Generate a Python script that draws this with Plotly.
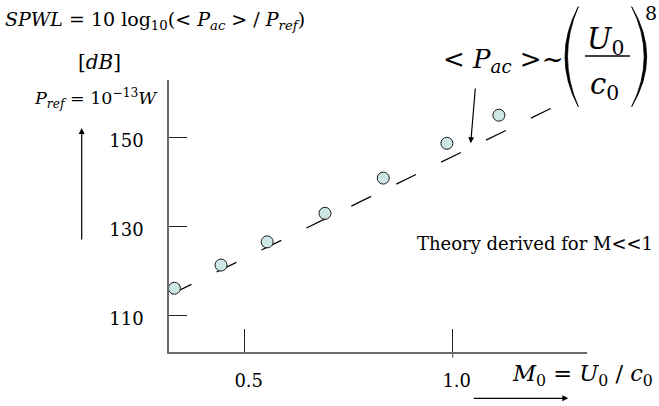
import plotly.graph_objects as go

# Measured sound power level vs. Mach number
mach = [0.331, 0.443, 0.554, 0.693, 0.833, 0.986, 1.111]
spwl = [116.2, 121.4, 126.6, 133.0, 140.9, 148.7, 155.0]

# U^8 law (theory valid for M << 1), drawn as a straight dashed guide
theory_mach = [0.3245, 1.2418]
theory_spwl = [114.9, 156.8]

x_ticks = [0.5, 1.0]
x_tick_text = ["0.5", "1.0"]
y_ticks = [110, 130, 150]
y_tick_text = ["110", "130", "150"]

W, H = 659, 406
SERIF = "DejaVu Serif"


def px(x):
    return x / W


def py(y):
    return 1 - y / H


fig = go.Figure()

fig.add_trace(go.Scatter(
    x=theory_mach, y=theory_spwl, mode="lines",
    line=dict(color="black", width=1.2, dash="22px,28px"),
    hoverinfo="skip", showlegend=False,
))

fig.add_trace(go.Scatter(
    x=mach, y=spwl, mode="markers",
    marker=dict(size=12, color="#cde7e7", line=dict(color="#1a1a1a", width=1)),
    showlegend=False,
))

axis_common = dict(
    showgrid=False, zeroline=False, showline=True,
    linecolor="#6a6a6a", linewidth=1.5,
    ticks="inside", tickcolor="#222", tickwidth=1.3,
    tickfont=dict(family=SERIF, size=18, color="black"),
)

fig.update_xaxes(
    domain=[px(169), px(587)], range=[0.318, 1.3228],
    tickmode="array", tickvals=x_ticks, ticktext=x_tick_text,
    ticklen=23, ticklabelstandoff=12, ticklabelshift=4,
    **axis_common,
)
fig.update_yaxes(
    domain=[py(352), py(80)], range=[101.91, 162.89],
    tickmode="array", tickvals=y_ticks, ticktext=y_tick_text,
    ticklen=18, ticklabelstandoff=20, ticklabelshift=3,
    **axis_common,
)

annotations = []


def label(x, y, text, size, xanchor="center", yanchor="middle"):
    annotations.append(dict(
        x=px(x), y=py(y), xref="paper", yref="paper", text=text,
        showarrow=False, xanchor=xanchor, yanchor=yanchor,
        font=dict(family=SERIF, size=size, color="black"),
    ))


def arrow(hx, hy, ax, ay):
    annotations.append(dict(
        x=px(hx), y=py(hy), xref="paper", yref="paper", text=" ",
        showarrow=True, ax=ax, ay=ay, arrowhead=2, arrowsize=1,
        arrowwidth=1.2, arrowcolor="black", standoff=0, startstandoff=0,
    ))


label(3, 21, "<i>SPWL</i> = 10 log<sub>10</sub>(&lt; <i>P<sub>ac</sub></i> &gt; / <i>P<sub>ref</sub></i>)",
      19, xanchor="left")
label(99, 62, "[<i>dB</i>]", 20)
label(32, 98, "<i>P<sub>ref</sub></i> = 10<sup>−13</sup><i>W</i>", 17.5, xanchor="left")
label(655, 243, "Theory derived for M&lt;&lt;1", 18, xanchor="right")
label(510, 375, "<i>M</i><sub>0</sub> = <i>U</i><sub>0</sub> / <i>c</i><sub>0</sub>", 22.5, xanchor="left")
label(441, 60, "&lt; <i>P<sub>ac</sub></i> &gt;~", 26, xanchor="left")
label(605, 41, "<i>U</i><sub>0</sub>", 29)
label(604, 86, "<i>c</i><sub>0</sub>", 29)
label(651, 13, "8", 19)

arrow(81.7, 128, 0, 120)
arrow(568.3, 398.3, -98, 0)
arrow(470.7, 143.3, 5.3, -63.3)

fig.update_layout(annotations=annotations)


def paren(top_x, bulge_outer, bulge_inner, y0=6.7, y1=106.7):
    # Filled crescent built from two quadratic curves
    co = (4 * bulge_outer - 2 * top_x) / 2
    ci = (4 * bulge_inner - 2 * top_x) / 2
    ym = (y0 + y1) / 2
    return (f"M {px(top_x)},{py(y0)} Q {px(co)},{py(ym)} {px(top_x)},{py(y1)} "
            f"Q {px(ci)},{py(ym)} {px(top_x)},{py(y0)} Z")


shapes = [
    dict(type="path", xref="paper", yref="paper", path=paren(578.3, 565, 567.5),
         fillcolor="black", line=dict(color="black", width=0.8)),
    dict(type="path", xref="paper", yref="paper", path=paren(631.7, 646.7, 644.2),
         fillcolor="black", line=dict(color="black", width=0.8)),
    # fraction bar
    dict(type="line", xref="paper", yref="paper", x0=px(585), x1=px(630),
         y0=py(56), y1=py(56), line=dict(color="black", width=1.5)),
    # 1.0 tick crosses slightly below the axis
    dict(type="line", xref="x", yref="paper", x0=1.0, x1=1.0,
         y0=py(352), y1=py(357.5), line=dict(color="#6a6a6a", width=1.3)),
]
fig.update_layout(shapes=shapes)

fig.update_layout(
    width=W, height=H, margin=dict(l=0, r=0, t=0, b=0),
    paper_bgcolor="white", plot_bgcolor="white",
    showlegend=False,
    font=dict(family=SERIF),
)

fig.write_html("out.html")
